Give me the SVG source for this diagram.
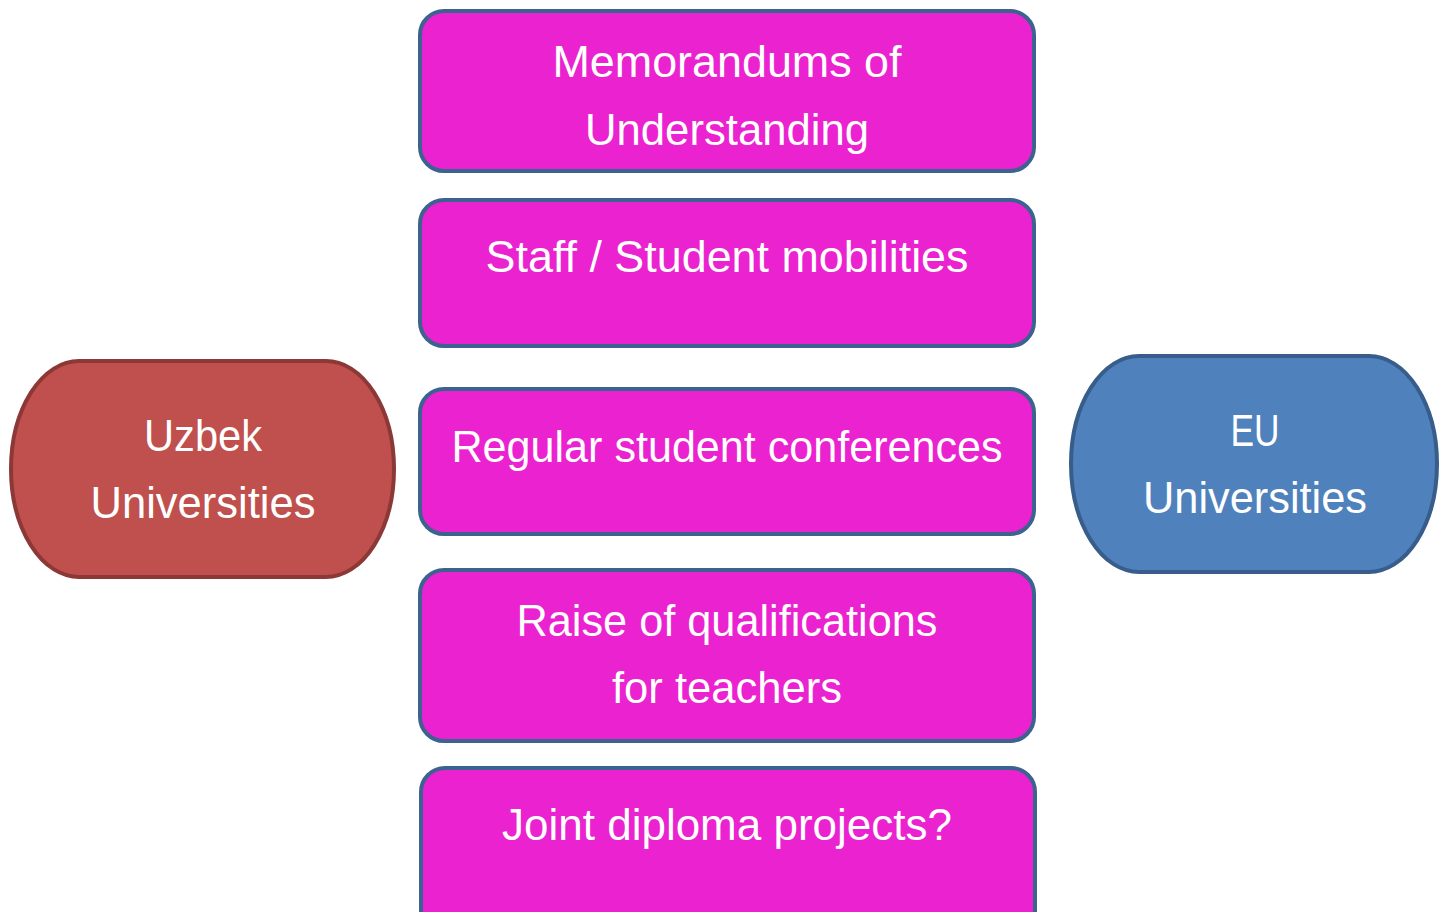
<svg xmlns="http://www.w3.org/2000/svg" width="1445" height="912" viewBox="0 0 1445 912">
<style>
.box{fill:#ea22cf;stroke:#3c6290;stroke-width:4}
.t{font-family:"Liberation Sans",Arial,sans-serif;font-size:44px;fill:#ffffff;text-anchor:middle}
</style>
<rect width="1445" height="912" fill="#ffffff"/>
<g id="connectors"></g>
<g id="uzbek">
<rect x="11" y="361" width="383" height="216" rx="68" ry="108" fill="#c0504d" stroke="#8c3836" stroke-width="4"/>
<text class="t" x="203" y="451" textLength="118" lengthAdjust="spacingAndGlyphs">Uzbek</text>
<text class="t" x="203" y="518" textLength="225" lengthAdjust="spacingAndGlyphs">Universities</text>
</g>
<g id="eu">
<rect x="1071" y="356" width="366" height="216" rx="68" ry="108" fill="#4f81bd" stroke="#385d8a" stroke-width="4"/>
<text class="t" x="1255" y="446" textLength="49" lengthAdjust="spacingAndGlyphs">EU</text>
<text class="t" x="1255" y="513" textLength="224" lengthAdjust="spacingAndGlyphs">Universities</text>
</g>
<g id="mou">
<rect class="box" x="420" y="11" width="614" height="160" rx="24"/>
<text class="t" x="727" y="77" textLength="349" lengthAdjust="spacingAndGlyphs">Memorandums of</text>
<text class="t" x="727" y="145" textLength="284" lengthAdjust="spacingAndGlyphs">Understanding</text>
</g>
<g id="mobility">
<rect class="box" x="420" y="200" width="614" height="146" rx="24"/>
<text class="t" x="727" y="272" textLength="483" lengthAdjust="spacingAndGlyphs">Staff / Student mobilities</text>
</g>
<g id="conferences">
<rect class="box" x="420" y="389" width="614" height="145" rx="24"/>
<text class="t" x="727" y="462" textLength="551" lengthAdjust="spacingAndGlyphs">Regular student conferences</text>
</g>
<g id="qualifications">
<rect class="box" x="420" y="570" width="614" height="171" rx="24"/>
<text class="t" x="727" y="636" textLength="421" lengthAdjust="spacingAndGlyphs">Raise of qualifications</text>
<text class="t" x="727" y="703" textLength="230" lengthAdjust="spacingAndGlyphs">for teachers</text>
</g>
<g id="diploma">
<rect class="box" x="421" y="768" width="614" height="170" rx="24"/>
<text class="t" x="727" y="840" textLength="450" lengthAdjust="spacingAndGlyphs">Joint diploma projects?</text>
</g>
</svg>
